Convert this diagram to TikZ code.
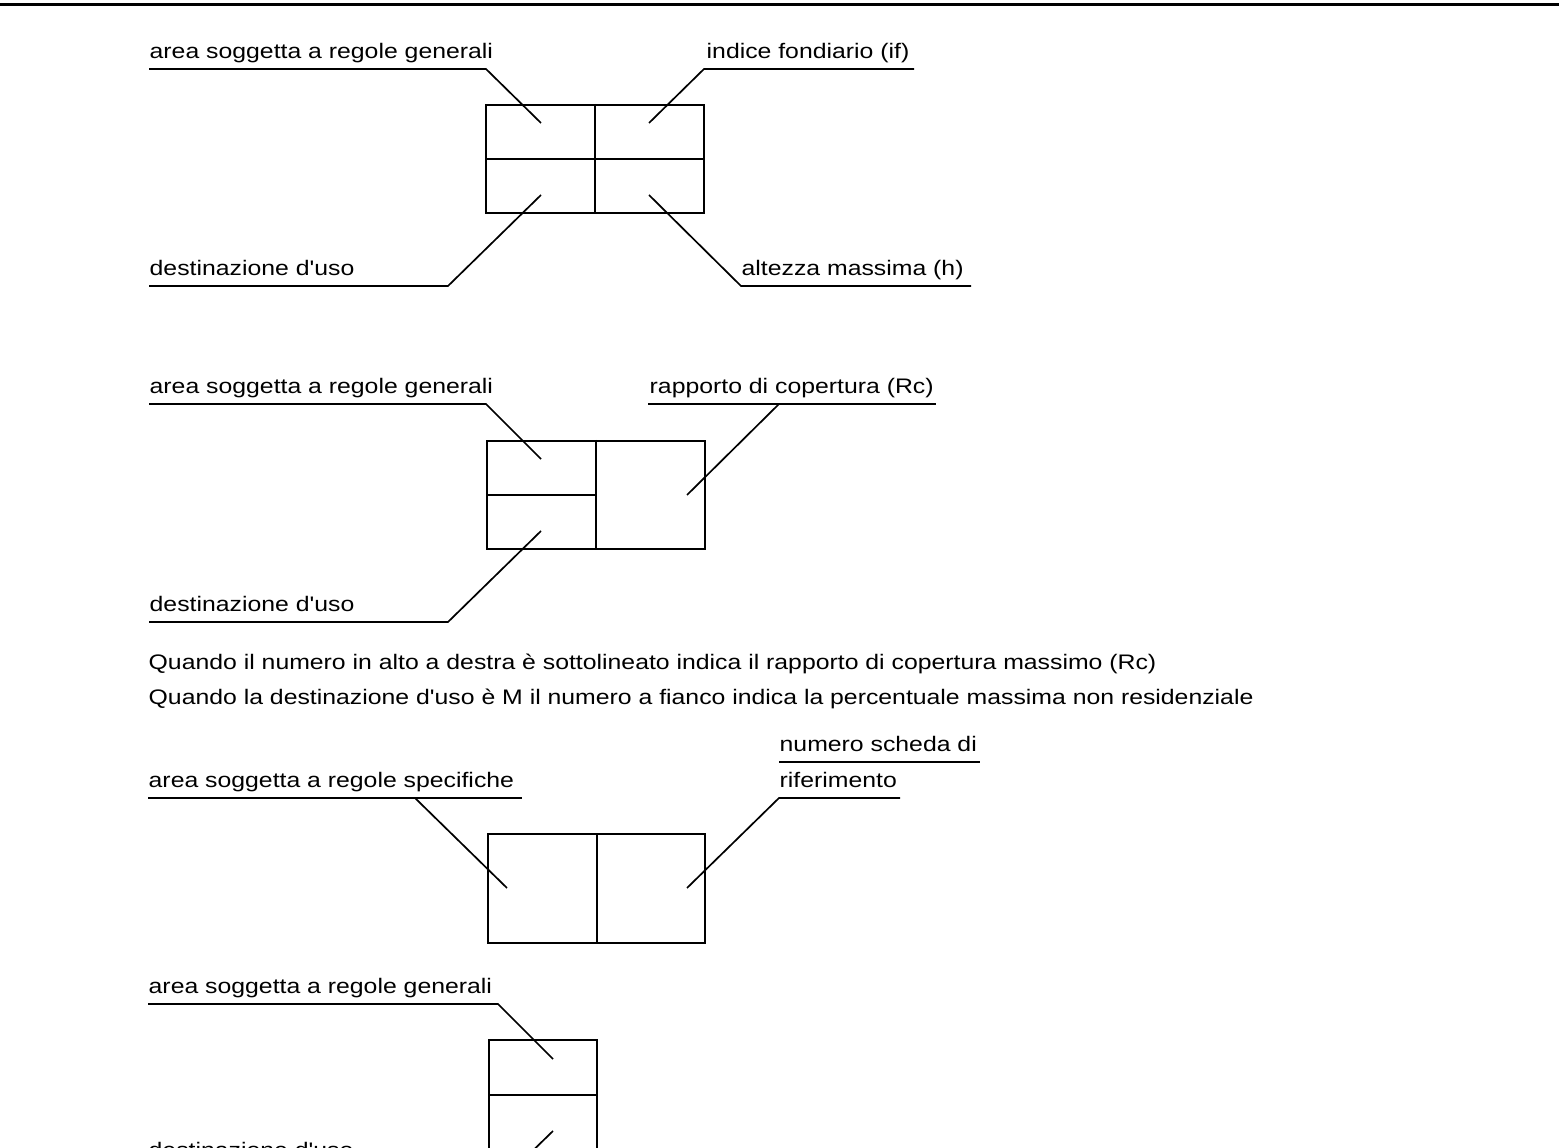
\documentclass[tikz,border=0pt]{standalone}
\usepackage{fontspec}
\newfontfamily\lblfam[FakeStretch=1.18]{Liberation Sans}
\newcommand{\lblfont}{\lblfam\fontsize{5.98pt}{7.2pt}\selectfont}
\usepackage{tikz}

\begin{document}
\begin{tikzpicture}[x=0.1mm, y=-0.1mm]
\tikzstyle{lbl}=[anchor=base west, inner sep=0pt, font=\lblfont]
\tikzstyle{cell}=[rectangle, draw, line width=0.2mm, inner sep=0pt]
\tikzstyle{leader}=[line width=0.17mm]
\tikzstyle{rule}=[line width=0.2mm]
\useasboundingbox (0,0) rectangle (1559,1148);
\clip (0,0) rectangle (1559,1148);

\draw [line width=0.3mm] (0,4.5) -- (1559,4.5);

% first block
\node (b1) [cell, minimum width=21.8mm, minimum height=10.8mm] at (595,159) {};
\draw [rule] (b1.north) -- (b1.south);
\draw [rule] (b1.west) -- (b1.east);
\coordinate (p1) at (541,123);
\coordinate (p2) at (649,123);
\coordinate (p3) at (541,195);
\coordinate (p4) at (649,195);
\node (s1a) [lbl] at (149,59)  {area soggetta a regole generali};
\node (s1b) [lbl] at (706,59)  {indice fondiario (if)};
\node (s1c) [lbl] at (149,276) {destinazione d'uso};
\node (s1d) [lbl] at (741,276) {altezza massima (h)};
\draw [leader] (s1a.base west) ++(0,10) -- ++(337,0) -- (p1);
\draw [leader] (s1b.base west) ++(208,10) -- ++(-210,0) -- (p2);
\draw [leader] (s1c.base west) ++(0,10) -- ++(299,0) -- (p3);
\draw [leader] (s1d.base west) ++(230,10) -- ++(-230,0) -- (p4);

% second block
\node (b2) [cell, minimum width=21.8mm, minimum height=10.8mm] at (596,495) {};
\draw [rule] (b2.north) -- (b2.south);
\draw [rule] (b2.west) -- (b2.center);
\coordinate (q1) at (541,459);
\coordinate (q2) at (687,495);
\coordinate (q3) at (541,531);
\node (s2a) [lbl] at (149,394) {area soggetta a regole generali};
\node (s2b) [lbl] at (649,394) {rapporto di copertura (Rc)};
\node (s2c) [lbl] at (149,612) {destinazione d'uso};
\draw [leader] (s2a.base west) ++(0,10) -- ++(337,0) -- (q1);
\draw [leader] (s2b.base west) ++(-1,10) -- ++(288,0);
\draw [leader] (s2b.base west) ++(130,10) -- (q2);
\draw [leader] (s2c.base west) ++(0,10) -- ++(299,0) -- (q3);

\node (n1) [lbl] at (148,670) {Quando il numero in alto a destra è sottolineato indica il rapporto di copertura massimo (Rc)};
\node (n2) [lbl] at (148,705) {Quando la destinazione d'uso è M il numero a fianco indica la percentuale massima non residenziale};

% third block
\node (b3) [cell, minimum width=21.7mm, minimum height=10.9mm] at (596.5,888.5) {};
\draw [rule] (b3.north) -- (b3.south);
\coordinate (r1) at (507,888);
\coordinate (r2) at (687,888);
\node (s3a) [lbl] at (148,788) {area soggetta a regole specifiche};
\node (s3b) [lbl] at (779,752) {numero scheda di};
\node (s3c) [lbl] at (779,788) {riferimento};
\draw [leader] (s3a.base west) ++(0,10) -- ++(374,0);
\draw [leader] (s3a.base west) ++(267,10) -- (r1);
\draw [leader] (s3b.base west) ++(0,10) -- ++(201,0);
\draw [leader] (s3c.base west) ++(121,10) -- ++(-121,0) -- (r2);

% fourth block
\node (b4) [cell, minimum width=10.8mm, minimum height=11mm] at (543,1095) {};
\draw [rule] (b4.west) -- (b4.east);
\coordinate (v1) at (553,1059);
\coordinate (v2) at (553,1131);
\node (s4a) [lbl] at (148,994)  {area soggetta a regole generali};
\node (s4b) [lbl] at (148,1157) {destinazione d'uso};
\draw [leader] (s4a.base west) ++(0,10) -- ++(350,0) -- (v1);
\draw [leader] (s4b.base west) ++(0,10) -- ++(368,0) -- (v2);

\end{tikzpicture}
\end{document}
